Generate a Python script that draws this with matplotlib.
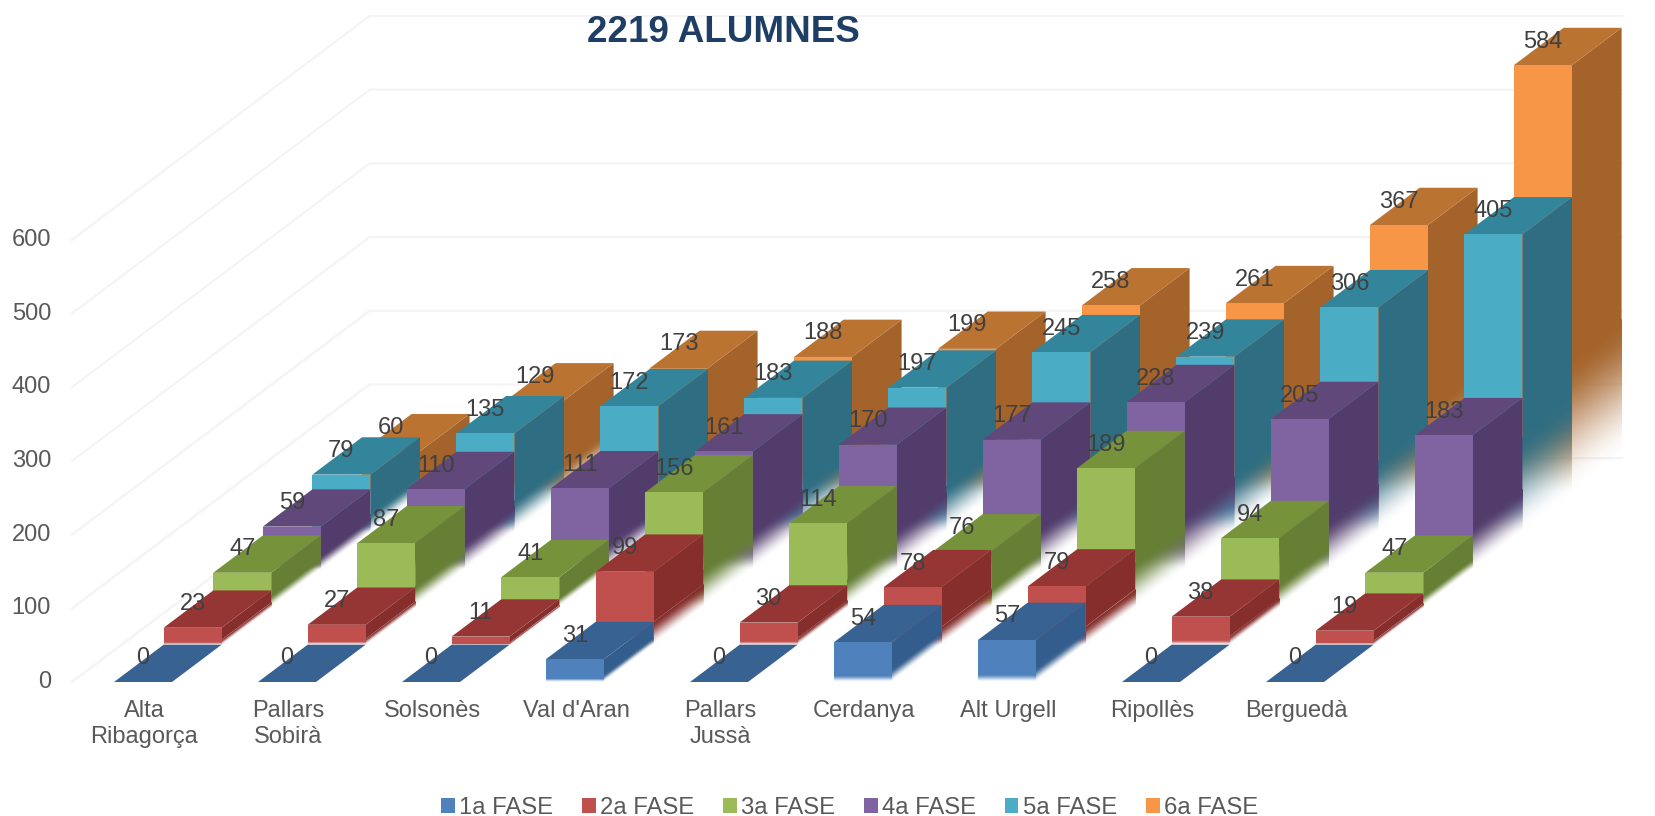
import matplotlib
matplotlib.use('Agg')
import matplotlib.pyplot as plt
import numpy as np
from matplotlib.colors import to_rgb
from matplotlib.patches import Patch, Polygon
from matplotlib.transforms import Affine2D

plt.rcParams['font.family'] = ['Liberation Sans', 'DejaVu Sans']

titol = '2219 ALUMNES'
comarques = ['Alta\nRibagorça', 'Pallars\nSobirà', 'Solsonès', "Val d'Aran", 'Pallars\nJussà',
             'Cerdanya', 'Alt Urgell', 'Ripollès', 'Berguedà']
fases = ['1a FASE', '2a FASE', '3a FASE', '4a FASE', '5a FASE', '6a FASE']
fase1 = [0, 0, 0, 31, 0, 54, 57, 0, 0]
fase2 = [23, 27, 11, 99, 30, 78, 79, 38, 19]
fase3 = [47, 87, 41, 156, 114, 76, 189, 94, 47]
fase4 = [59, 110, 111, 161, 170, 177, 228, 205, 183]
fase5 = [79, 135, 172, 183, 197, 245, 239, 306, 405]
fase6 = [60, 129, 173, 188, 199, 258, 261, 367, 584]
valors = [fase1, fase2, fase3, fase4, fase5, fase6]
eix_y = [0, 100, 200, 300, 400, 500, 600]

c_front = ['#4F81BD', '#C0504D', '#9BBB59', '#8064A2', '#4BACC6', '#F79646']
c_top = ['#386292', '#963634', '#76933C', '#60497A', '#33859C', '#BA7331']
c_side = ['#335D8C', '#862E2C', '#667F35', '#523C6C', '#2F6E82', '#A4632A']

# projeccio obliqua, tot en pixels de la figura
X0, Y0 = 114, 682
CAT = 144.0
AMPLE = 58.0
DX, DY = 49.6, 37.3
K = 0.737
FADE_SIDE = 0.32
FADE_FRONT = 0.17
GRID_L, GRID_R = 72, 1622


def proj(cat, fons, val, dins=0.0):
    return (X0 + cat * CAT + dins + fons * DX, Y0 - fons * DY - val * K)


fig = plt.figure(figsize=(16.56, 8.16), dpi=100)
ax = fig.add_axes([0, 0, 1, 1])


def cara(p0, p1, alt, color, z, frac):
    # p0, p1 punts de la base; la part de baix s'esvaeix cap a transparent
    fade = alt * frac
    ax.add_patch(Polygon([(p0[0], p0[1] - fade + 0.5), (p1[0], p1[1] - fade + 0.5),
                          (p1[0], p1[1] - alt), (p0[0], p0[1] - alt)],
                         closed=True, facecolor=color, edgecolor='none', zorder=z))
    n = 64
    t = np.linspace(0, 1, n)
    img = np.ones((n, 2, 4))
    img[:, :, :3] = to_rgb(color)
    img[:, :, 3] = (t * t * (3 - 2 * t))[:, None]
    # quadrat unitat -> paral.lelogram de la cara
    m = Affine2D.from_values(p1[0] - p0[0], p1[1] - p0[1], 0, -fade, p0[0], p0[1])
    ax.imshow(img, extent=(0, 1, 0, 1), origin='lower', aspect='auto', interpolation='bilinear',
              transform=m + ax.transData, zorder=z)


# graella
for v in eix_y:
    a = (GRID_L, Y0 - v * K)
    b = (GRID_L + 6 * DX, Y0 - 6 * DY - v * K)
    ax.plot([a[0], b[0], GRID_R], [a[1], b[1], b[1]], color='#F4F4F4', lw=1.6, zorder=0)
    ax.text(51, a[1], str(v), ha='right', va='center', fontsize=17, color='#595959')

# barres, del fons cap endavant
z = 2
for s in range(5, -1, -1):
    for c in range(len(comarques)):
        v = valors[s][c]
        h = v * K
        if v > 0:
            cara(proj(c, s, 0, AMPLE), proj(c, s + 1, 0, AMPLE), h, c_side[s], z, FADE_SIDE)
        top = [proj(c, s, v), proj(c, s, v, AMPLE), proj(c, s + 1, v, AMPLE), proj(c, s + 1, v)]
        ax.add_patch(Polygon(top, closed=True, facecolor=c_top[s], edgecolor='none', zorder=z))
        if v > 0:
            cara(proj(c, s, 0), proj(c, s, 0, AMPLE), h, c_front[s], z, FADE_FRONT)
        z += 1

# etiquetes de dades
for s in range(6):
    for c in range(len(comarques)):
        v = valors[s][c]
        x, y = proj(c, s, v, AMPLE / 2)
        ax.text(x, y - 23.5, str(v), ha='center', va='center', fontsize=17, color='#404040', zorder=1000)

# categories
for c, nom in enumerate(comarques):
    x, y = proj(c, 0, 0, AMPLE / 2)
    ax.text(x + 1, 700, nom, ha='center', va='top', fontsize=17, color='#595959', linespacing=1.26)

ax.text(723, 32, titol, ha='center', va='center', fontsize=26.5, fontweight='bold', color='#1F3E66')

handles = [Patch(facecolor=col, edgecolor='none', label=f) for col, f in zip(c_front, fases)]
ax.legend(handles=handles, ncols=6, loc='center', bbox_to_anchor=(850 / 1656, 8 / 816), frameon=False,
          fontsize=17.2, labelcolor='#595959', handlelength=0.55, handleheight=0.55, handletextpad=0.2,
          columnspacing=1.21, borderpad=0)

ax.set_xlim(0, 1656)
ax.set_ylim(816, 0)
ax.axis('off')
fig.savefig('out.png', dpi=100, facecolor='white')
